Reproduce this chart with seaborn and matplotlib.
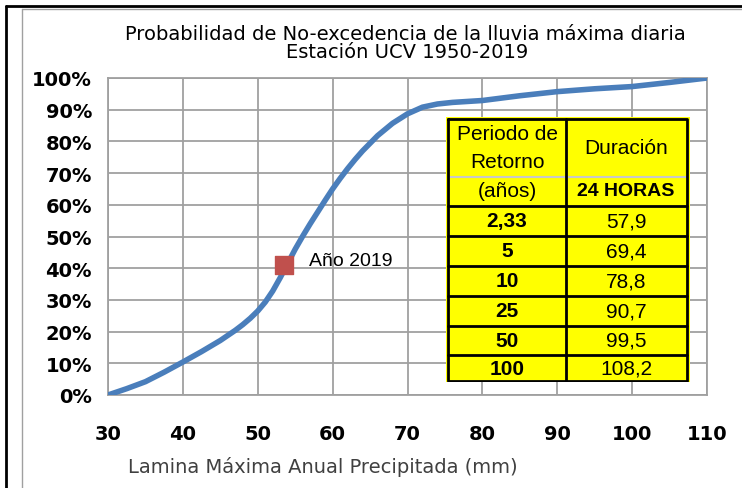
import pandas as pd
import seaborn as sns
import matplotlib.pyplot as plt
from matplotlib.lines import Line2D
from matplotlib.ticker import PercentFormatter

# Curva de probabilidad de no-excedencia
lamina = [30, 32.5, 35, 37.5, 40, 42.5, 45, 46, 47, 48, 49, 50, 51, 52, 53, 54, 55, 56, 57, 58, 59,
          60, 61, 62, 63, 64, 66, 68, 70, 72, 74, 76, 78, 80, 85, 90, 95, 100, 105, 110]
prob = [0, 2, 4.2, 7.2, 10.4, 13.7, 17.2, 18.8, 20.4, 22.2, 24.2, 26.5, 29.3, 32.8, 37, 41.5,
        46, 50.1, 54, 57.7, 61.4, 65, 68.3, 71.4, 74.3, 77, 81.8, 85.7, 88.7, 90.8, 91.8, 92.3,
        92.6, 92.9, 94.4, 95.7, 96.6, 97.3, 98.6, 100]

anio_x = [53.5]
anio_y = [41]

periodos = ["2,33", "5", "10", "25", "50", "100"]
duracion = ["57,9", "69,4", "78,8", "90,7", "99,5", "108,2"]

df = pd.DataFrame({"lamina": lamina, "prob": prob})

sns.set_style("white")
plt.rcParams["text.color"] = "black"
plt.rcParams["xtick.labelcolor"] = "black"
plt.rcParams["ytick.labelcolor"] = "black"
arial = ["Liberation Sans", "DejaVu Sans"]

fig = plt.figure(figsize=(7.42, 4.89), dpi=100)
ax = fig.add_axes([108 / 742, 1 - 396 / 489, 599 / 742, 317 / 489])

sns.lineplot(data=df, x="lamina", y="prob", ax=ax, color="#4A7EBB", linewidth=4, zorder=3)
sns.scatterplot(x=anio_x, y=anio_y, ax=ax, marker="s", s=150, color="#C0504D",
                edgecolor="#C0504D", zorder=4)
ax.text(anio_x[0] + 3.3, anio_y[0] + 1.3, "Año 2019", fontsize=14, family=arial,
        va="center", ha="left")

ax.set_xlim(30, 110)
ax.set_ylim(0, 100)
ax.set_xticks(range(30, 111, 10))
ax.set_yticks(range(0, 101, 10))
ax.yaxis.set_major_formatter(PercentFormatter(decimals=0))
ax.grid(True, color="#A0A0A0", linewidth=1.3)
for s in ax.spines.values():
    s.set_color("#A0A0A0")
    s.set_linewidth(1.3)
ax.tick_params(axis="both", direction="out", length=8, color="#A0A0A0", width=1.2,
               labelsize=14)
ax.tick_params(axis="x", pad=13)
for lab in ax.get_xticklabels() + ax.get_yticklabels():
    lab.set_fontweight("bold")
ax.set_xlabel("Lamina Máxima Anual Precipitada (mm)", fontsize=14, color="#404040")
ax.xaxis.set_label_coords((323 - 108) / 599, (396 - 467) / 317)
ax.xaxis.label.set_va("center")
ax.set_ylabel("")

fig.text(405 / 742, 1 - 35 / 489, "Probabilidad de No-excedencia de la lluvia máxima diaria",
         ha="center", va="center", fontsize=14)
fig.text(407 / 742, 1 - 53 / 489, "Estación UCV 1950-2019",
         ha="center", va="center", fontsize=14)

# Tabla de periodos de retorno
tab = fig.add_axes([446 / 742, 1 - 383 / 489, 244 / 742, 265 / 489])
tab.set_xlim(0, 244)
tab.set_ylim(265, 0)
tab.set_facecolor("#FFFF00")
tab.set_xticks([])
tab.set_yticks([])
for s in tab.spines.values():
    s.set_visible(False)
xr = 241
row_tops = [89, 119, 149, 179, 209, 238, 265]
tab.plot([2, xr], [60, 60], color="#C8C8C8", lw=1.5)
tab.plot([2, xr, xr, 2, 2], [2, 2, 264, 264, 2], color="black", lw=2)
tab.plot([120, 120], [2, 264], color="black", lw=2)
for y in row_tops[:-1]:
    tab.plot([2, xr], [y, y], color="black", lw=2)
tab.text(61, 17, "Periodo de", ha="center", va="center", fontsize=15, family=arial)
tab.text(61, 45, "Retorno", ha="center", va="center", fontsize=15, family=arial)
tab.text(61, 74, "(años)", ha="center", va="center", fontsize=15, family=arial)
tab.text(180, 31, "Duración", ha="center", va="center", fontsize=15, family=arial)
tab.text(180, 74, "24 HORAS", ha="center", va="center", fontsize=14, family=arial,
         fontweight="bold")
for i, (p, d) in enumerate(zip(periodos, duracion)):
    yc = (row_tops[i] + row_tops[i + 1]) / 2
    tab.text(61, yc, p, ha="center", va="center", fontsize=15, family=arial, fontweight="bold")
    tab.text(180, yc, d, ha="center", va="center", fontsize=15, family=arial)

# Marco exterior
fig.add_artist(Line2D([6 / 742, 6 / 742], [0, 1 - 7 / 489], color="black", lw=2))
fig.add_artist(Line2D([6 / 742, 1], [1 - 7 / 489, 1 - 7 / 489], color="black", lw=2))
fig.add_artist(Line2D([22 / 742, 22 / 742], [0, 1 - 10 / 489], color="#A0A0A0", lw=1))
fig.add_artist(Line2D([22 / 742, 1], [1 - 10 / 489, 1 - 10 / 489], color="#A0A0A0", lw=1))

fig.savefig("out.png", dpi=100)
